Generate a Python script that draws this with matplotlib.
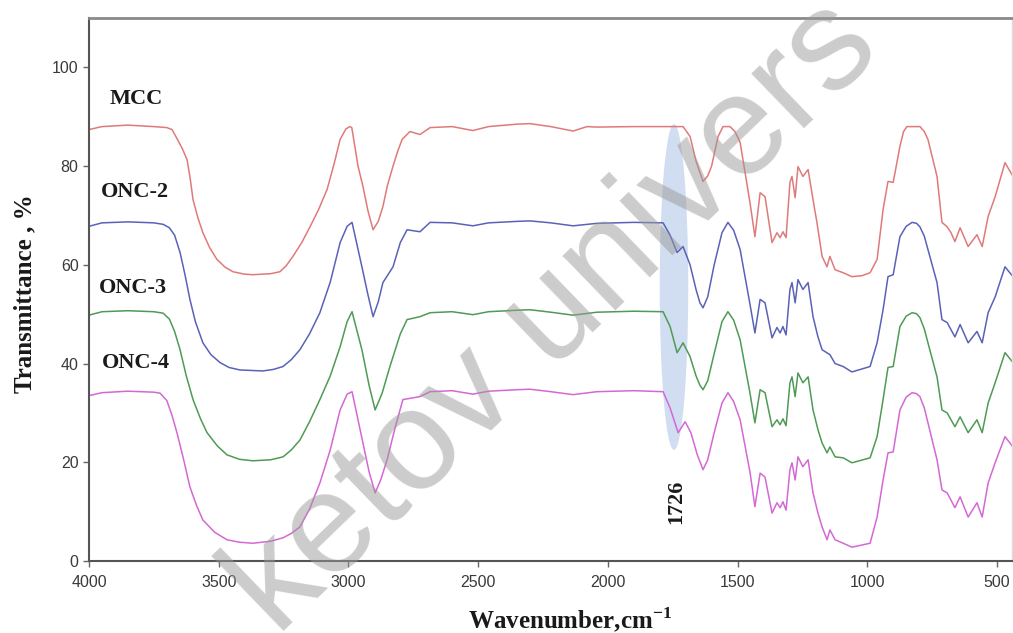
import matplotlib
matplotlib.use("Agg")
import matplotlib.pyplot as plt
from matplotlib.patches import Ellipse

plt.rcParams['mathtext.fontset'] = 'custom'
plt.rcParams['mathtext.rm'] = 'Liberation Serif'
plt.rcParams['mathtext.bf'] = 'Liberation Serif:bold'

# ---------------- data ----------------
mcc_w = [4000, 3950, 3850, 3750, 3700, 3680, 3660, 3640, 3622, 3610, 3599, 3580, 3561, 3535,
         3507, 3475, 3445, 3400, 3368, 3300, 3264, 3240, 3214, 3180, 3148, 3115, 3082, 3055,
         3032, 3010, 2995, 2987, 2963, 2944, 2925, 2905, 2885, 2867, 2850, 2828, 2810, 2793,
         2763, 2724, 2685, 2600, 2520, 2460, 2350, 2300, 2220, 2134, 2080, 2042, 1900, 1710,
         1683, 1660, 1633, 1615, 1600, 1575, 1556, 1529, 1510, 1490, 1452, 1433, 1413, 1394,
         1367, 1348, 1336, 1325, 1313, 1298, 1290, 1278, 1267, 1248, 1228, 1209, 1194, 1174,
         1155, 1144, 1124, 1093, 1059, 1020, 989, 962, 939, 920, 900, 874, 860, 847, 797, 780,
         766, 731, 712, 692, 677, 662, 642, 611, 577, 557, 534, 507, 469, 438]
mcc_t = [87.4, 88.0, 88.3, 88.0, 87.8, 87.4, 85.5, 83.5, 81.3, 77.5, 73.2, 69.5, 66.5, 63.5,
         61.1, 59.5, 58.6, 58.1, 58.0, 58.2, 58.6, 59.8, 61.7, 64.5, 67.7, 71.2, 75.3, 80.5,
         85.4, 87.5, 88.0, 87.8, 80.0, 75.9, 71.0, 67.1, 68.8, 71.8, 76.0, 80.0, 83.0, 85.4,
         87.0, 86.4, 87.8, 88.0, 87.2, 88.0, 88.5, 88.6, 88.0, 87.1, 88.0, 87.9, 88.0, 88.0,
         86.0, 81.0, 76.9, 78.0, 80.0, 86.0, 88.0, 88.0, 87.0, 84.8, 72.6, 65.7, 74.6, 73.8,
         64.5, 66.5, 65.5, 66.7, 65.5, 76.7, 77.9, 73.6, 79.9, 77.9, 79.3, 73.2, 68.6, 61.7,
         59.6, 61.7, 59.0, 58.4, 57.6, 57.8, 58.4, 61.1, 71.2, 76.9, 76.7, 84.0, 87.0, 88.0,
         88.0, 87.0, 85.4, 77.9, 68.6, 67.7, 66.5, 64.7, 67.5, 63.7, 66.1, 63.7, 69.8, 73.8,
         80.7, 77.9]

onc2_w = [4000, 3950, 3850, 3750, 3714, 3690, 3670, 3649, 3630, 3611, 3590, 3561, 3530, 3495,
          3460, 3418, 3330, 3290, 3252, 3220, 3187, 3150, 3110, 3070, 3032, 3005, 2986, 2948,
          2925, 2905, 2885, 2867, 2828, 2800, 2774, 2724, 2685, 2600, 2520, 2460, 2350, 2300,
          2220, 2134, 2042, 1900, 1787, 1760, 1733, 1710, 1683, 1660, 1645, 1633, 1615, 1590,
          1560, 1537, 1515, 1490, 1452, 1433, 1413, 1394, 1367, 1348, 1336, 1325, 1313, 1298,
          1290, 1278, 1267, 1248, 1228, 1209, 1190, 1174, 1144, 1124, 1093, 1059, 989, 962,
          939, 920, 900, 874, 850, 827, 810, 797, 780, 766, 731, 712, 692, 662, 642, 611, 577,
          557, 534, 507, 469, 438]
onc2_t = [67.8, 68.5, 68.7, 68.5, 68.2, 67.5, 66.0, 62.5, 58.0, 53.0, 48.5, 44.2, 41.8, 40.2,
          39.2, 38.7, 38.5, 38.8, 39.4, 40.8, 42.8, 46.0, 50.3, 56.5, 64.5, 67.8, 68.6, 59.6,
          54.0, 49.5, 52.5, 56.4, 59.6, 64.5, 67.1, 66.7, 68.6, 68.5, 67.9, 68.5, 68.8, 68.9,
          68.5, 67.9, 68.4, 68.6, 68.5, 66.0, 62.5, 63.7, 60.0, 55.0, 52.3, 51.3, 53.5, 60.0,
          66.5, 68.6, 67.0, 63.1, 52.0, 46.2, 53.0, 52.3, 45.2, 47.3, 46.2, 47.5, 45.8, 55.0,
          56.4, 52.3, 57.0, 55.0, 56.4, 49.5, 45.4, 42.8, 41.8, 40.0, 39.4, 38.3, 39.4, 44.2,
          50.9, 57.6, 58.0, 65.7, 67.8, 68.6, 68.4, 67.7, 65.8, 63.1, 56.4, 48.9, 48.3, 45.4,
          47.9, 44.2, 46.5, 44.2, 50.3, 53.5, 59.6, 57.6]

onc3_w = [4000, 3950, 3850, 3750, 3714, 3690, 3670, 3649, 3625, 3599, 3570, 3545, 3505, 3468,
          3420, 3368, 3300, 3252, 3220, 3187, 3150, 3110, 3070, 3032, 3005, 2986, 2948, 2920,
          2897, 2870, 2840, 2800, 2774, 2724, 2685, 2600, 2520, 2460, 2350, 2300, 2220, 2134,
          2042, 1900, 1787, 1760, 1733, 1710, 1683, 1660, 1645, 1633, 1615, 1590, 1560, 1537,
          1515, 1490, 1452, 1433, 1413, 1394, 1367, 1348, 1336, 1325, 1313, 1298, 1290, 1278,
          1267, 1248, 1228, 1209, 1190, 1174, 1155, 1144, 1124, 1093, 1059, 989, 962, 939, 920,
          900, 874, 850, 827, 810, 797, 780, 766, 731, 712, 692, 662, 642, 611, 577, 557, 534,
          507, 469, 438]
onc3_t = [49.8, 50.5, 50.7, 50.5, 50.2, 49.0, 46.5, 42.8, 37.5, 32.7, 28.8, 26.0, 23.3, 21.5,
          20.6, 20.3, 20.5, 21.1, 22.5, 24.5, 28.2, 32.7, 37.5, 43.4, 48.5, 50.5, 42.8, 35.5,
          30.6, 34.0, 39.4, 46.0, 48.9, 49.5, 50.3, 50.5, 49.9, 50.5, 50.8, 50.9, 50.4, 49.8,
          50.4, 50.6, 50.5, 47.5, 42.2, 44.2, 41.4, 37.5, 35.6, 34.7, 36.5, 42.0, 48.5, 50.5,
          48.8, 44.8, 34.0, 28.0, 34.7, 34.1, 27.2, 28.6, 27.6, 28.8, 27.4, 36.1, 37.3, 33.3,
          38.1, 36.1, 37.3, 30.6, 26.6, 23.9, 21.9, 23.1, 21.1, 20.9, 19.9, 20.9, 25.2, 32.7,
          39.2, 39.4, 47.5, 49.6, 50.3, 50.1, 49.3, 47.0, 44.2, 37.3, 30.6, 30.0, 27.2, 29.2,
          26.0, 28.6, 26.0, 32.0, 36.1, 42.2, 40.2]

onc4_w = [4000, 3950, 3850, 3750, 3726, 3700, 3680, 3661, 3635, 3611, 3585, 3561, 3515, 3468,
          3420, 3368, 3300, 3252, 3220, 3187, 3150, 3110, 3070, 3032, 3005, 2986, 2944, 2920,
          2897, 2875, 2851, 2820, 2790, 2724, 2685, 2600, 2520, 2460, 2350, 2300, 2220, 2134,
          2042, 1900, 1787, 1760, 1729, 1702, 1680, 1655, 1633, 1615, 1590, 1560, 1537, 1515,
          1490, 1452, 1433, 1413, 1394, 1367, 1348, 1336, 1325, 1313, 1298, 1290, 1278, 1267,
          1248, 1228, 1209, 1190, 1174, 1155, 1144, 1124, 1093, 1059, 989, 962, 939, 920, 900,
          874, 850, 827, 810, 797, 780, 766, 731, 712, 692, 662, 642, 611, 577, 557, 534, 507,
          469, 438]
onc4_t = [33.5, 34.1, 34.4, 34.2, 34.0, 32.5, 29.5, 26.0, 20.5, 15.0, 11.2, 8.3, 5.8, 4.3,
          3.8, 3.6, 4.0, 4.7, 5.6, 6.9, 10.5, 15.8, 22.5, 30.6, 33.8, 34.3, 23.9, 18.0, 13.8,
          16.5, 20.5, 27.0, 32.7, 33.3, 34.3, 34.5, 33.8, 34.4, 34.7, 34.8, 34.3, 33.7, 34.3,
          34.5, 34.3, 31.0, 26.0, 28.2, 26.0, 21.5, 18.5, 20.5, 26.0, 32.0, 34.1, 32.3, 28.6,
          18.0, 11.0, 17.8, 17.0, 9.7, 11.8, 10.8, 12.0, 10.3, 18.5, 19.9, 16.4, 21.1, 19.1,
          20.5, 13.8, 9.7, 6.9, 4.3, 6.3, 4.3, 3.6, 2.8, 3.6, 8.9, 16.4, 21.9, 22.1, 30.6,
          33.2, 34.1, 33.9, 33.3, 31.0, 28.0, 20.5, 14.4, 13.8, 10.8, 13.0, 8.9, 11.8, 8.9,
          15.8, 19.9, 25.2, 23.1]

series_names = ["MCC", "ONC-2", "ONC-3", "ONC-4"]
series_colors = ["#e07a7a", "#5a62b8", "#4f9a55", "#d468d4"]
label_pos = [(3819, 93.5), (3821, 74.8), (3830, 55.4), (3819, 40.2)]
x_ticks = [4000, 3500, 3000, 2500, 2000, 1500, 1000, 500]
y_ticks = [0, 20, 40, 60, 80, 100]
peak_label = "1726"

# ---------------- figure ----------------
W, H = 1013, 633
fig = plt.figure(figsize=(W / 100, H / 100), dpi=100)
ax = fig.add_axes([89 / W, 1 - 561 / H, (1012 - 89) / W, (561 - 18) / H])

ax.add_patch(Ellipse((1745, 55.5), 110, 66, facecolor="#c9d8ee", edgecolor="none",
                     alpha=0.85, zorder=1))

for wv, tv, c in zip([mcc_w, onc2_w, onc3_w, onc4_w], [mcc_t, onc2_t, onc3_t, onc4_t],
                     series_colors):
    ax.plot(wv, tv, color=c, lw=1.1, zorder=2)

for name, (lx, ly) in zip(series_names, label_pos):
    ax.text(lx, ly, name, ha="center", va="center", fontsize=16, fontweight="bold",
            family="Liberation Serif", color="#1a1a1a")

ax.text(1737, 12.0, peak_label, rotation=90, ha="center", va="center", fontsize=16,
        fontweight="bold", family="Liberation Serif", color="#1a1a1a")

ax.set_xlim(4000, 442)
ax.set_ylim(0, 110)
ax.set_xticks(x_ticks)
ax.set_yticks(y_ticks)
ax.tick_params(axis="both", direction="out", length=4, width=1, color="#666666",
               labelsize=11.5, labelcolor="#3a3a3a")
for lab in ax.get_xticklabels() + ax.get_yticklabels():
    lab.set_family("Liberation Sans")
ax.tick_params(axis="x", pad=6)
for side in ["left", "bottom"]:
    ax.spines[side].set_color("#555555")
    ax.spines[side].set_linewidth(1.5)
ax.spines["top"].set_color("#8a8a8a")
ax.spines["top"].set_linewidth(2)
ax.spines["right"].set_color("#dddddd")
ax.spines["right"].set_linewidth(1)

fig.text(25 / W, 1 - 294 / H, "Transmittance , %", rotation=90, ha="center", va="center",
         fontsize=18, fontweight="bold", family="Liberation Serif", color="#1a1a1a")
fig.text(570 / W, 1 - 620 / H, "Wavenumber,cm$^{\\mathbf{-1}}$", ha="center", va="center",
         fontsize=18, fontweight="bold", family="Liberation Serif", color="#1a1a1a")

# watermark
fig.text(555 / W, 1 - 318 / H, "ketov univers", rotation=44, ha="center", va="center",
         fontsize=103, family="Liberation Sans", color="#9a9a9a", alpha=0.5, zorder=10)

fig.savefig("out.png", dpi=100, facecolor="white")
